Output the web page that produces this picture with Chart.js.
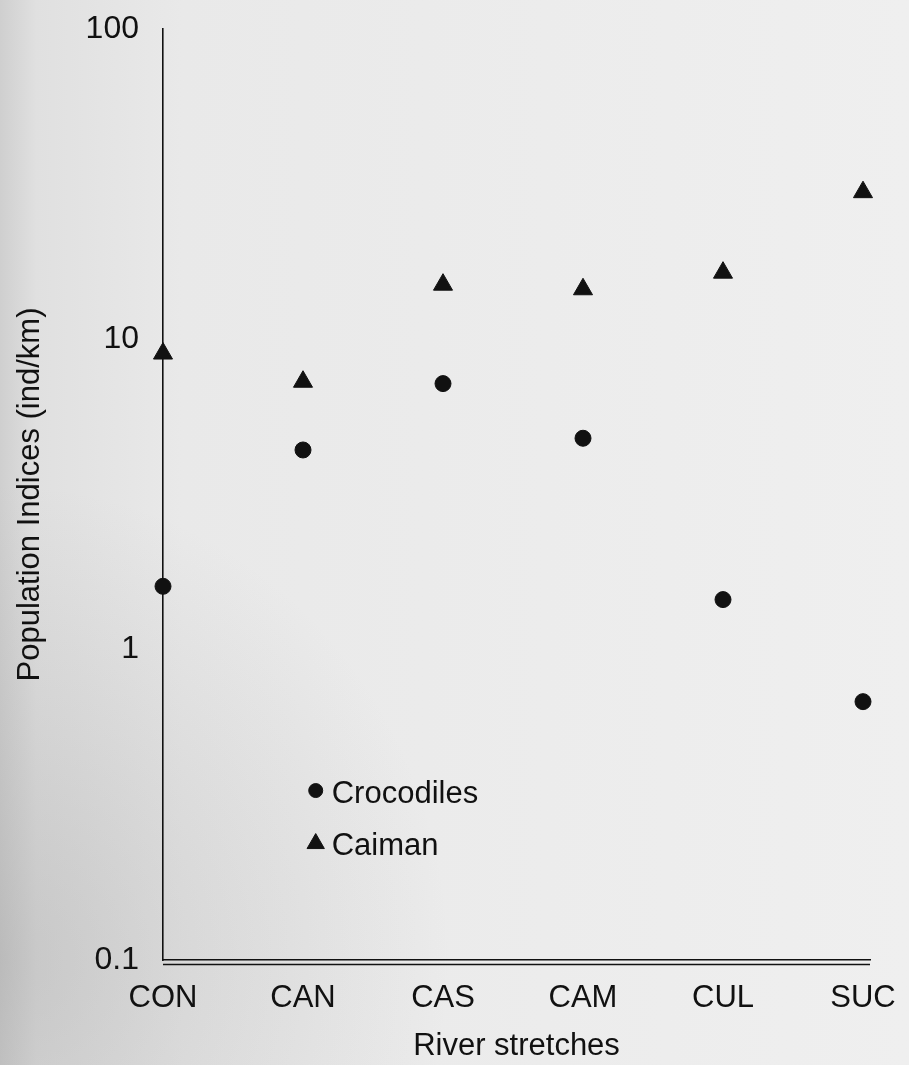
<!DOCTYPE html>
<html>
<head>
<meta charset="utf-8">
<title>Population Indices by river stretch</title>
<script src="https://cdn.jsdelivr.net/npm/chart.js@4/dist/chart.umd.min.js"></script>
<style>
  html, body { margin: 0; padding: 0; }
  body {
    width: 909px; height: 1065px; overflow: hidden;
    background:
      radial-gradient(ellipse at 0% 90%, rgba(140,140,140,0.30) 0%, rgba(140,140,140,0) 35%),
      linear-gradient(to right, #cfcfcf 0%, #e0e0e0 4%, #e9e9e9 20%, #ececec 60%, #efefef 100%);
  }
  #wrap { position: relative; width: 909px; height: 1065px; }
</style>
</head>
<body>
<div id="wrap"><canvas id="chart"></canvas></div>
<script>
// River stretches surveyed
const categories = ['CON', 'CAN', 'CAS', 'CAM', 'CUL', 'SUC'];
// Population indices, individuals per km
const crocodiles = [1.6, 4.4, 7.2, 4.8, 1.45, 0.68];
const caiman = [9.0, 7.3, 15.0, 14.5, 16.4, 29.8];
// Logarithmic axis ticks
const yTicks = [0.1, 1, 10, 100];
const yTickLabels = ['0.1', '1', '10', '100'];

const ink = '#111111';
const font = "'Liberation Sans', Arial, Helvetica, sans-serif";

const toPoints = vals => vals.map((v, i) => ({ x: i, y: v }));

// Doubled x baseline
const doubleBaseline = {
  id: 'doubleBaseline',
  afterDraw(chart) {
    const { ctx, chartArea } = chart;
    ctx.save();
    ctx.strokeStyle = ink;
    ctx.lineWidth = 1.6;
    ctx.beginPath();
    ctx.moveTo(chartArea.left, chartArea.bottom + 4.5);
    ctx.lineTo(chartArea.right, chartArea.bottom + 4.5);
    ctx.stroke();
    ctx.restore();
  }
};

// Key drawn inside the plotting area, lower left
const insetKey = {
  id: 'insetKey',
  afterDraw(chart, args, opts) {
    const { ctx, chartArea } = chart;
    const x0 = chartArea.left + opts.x * (chartArea.right - chartArea.left);
    let y = chartArea.top + opts.y * (chartArea.bottom - chartArea.top);
    ctx.save();
    ctx.font = opts.size + 'px ' + font;
    ctx.textBaseline = 'middle';
    ctx.textAlign = 'left';
    chart.data.datasets.forEach(ds => {
      ctx.fillStyle = ink;
      ctx.strokeStyle = ink;
      ctx.lineWidth = 1;
      Chart.helpers.drawPoint(ctx, {
        pointStyle: ds.pointStyle,
        radius: ds.keyRadius,
        rotation: 0,
        borderWidth: 1
      }, x0, y + ds.keyShift);
      ctx.fillStyle = ink;
      ctx.fillText(ds.label, x0 + 16, y + 4);
      y += opts.rowGap;
    });
    ctx.restore();
  }
};

new Chart(document.getElementById('chart'), {
  type: 'scatter',
  data: {
    datasets: [
      {
        label: 'Crocodiles',
        data: toPoints(crocodiles),
        clip: false,
        pointStyle: 'circle',
        pointRadius: 8,
        pointHoverRadius: 8,
        backgroundColor: ink,
        borderColor: ink,
        borderWidth: 1,
        keyRadius: 7,
        keyShift: 0
      },
      {
        label: 'Caiman',
        data: toPoints(caiman),
        clip: false,
        pointStyle: 'triangle',
        pointRadius: 11,
        pointHoverRadius: 11,
        backgroundColor: ink,
        borderColor: ink,
        borderWidth: 1,
        keyRadius: 10,
        keyShift: 1
      }
    ]
  },
  options: {
    responsive: true,
    maintainAspectRatio: false,
    animation: false,
    events: [],
    layout: { padding: { top: 29, right: 39, bottom: 0, left: 12 } },
    plugins: {
      legend: { display: false },
      tooltip: { enabled: false },
      insetKey: { x: 0.216, y: 0.818, rowGap: 52, size: 31 }
    },
    scales: {
      x: {
        type: 'linear',
        min: 0,
        max: 5.05,
        grid: { display: false },
        border: { display: true, color: ink, width: 1.6 },
        ticks: {
          stepSize: 1,
          includeBounds: false,
          color: ink,
          padding: 12,
          maxRotation: 0,
          font: { family: font, size: 31 },
          callback: v => categories[v]
        },
        title: {
          display: true,
          text: 'River stretches',
          color: ink,
          padding: { top: 0, bottom: 0 },
          font: { family: font, size: 31 }
        },
        afterFit(scale) { scale.height = 1065 - 960; }
      },
      y: {
        type: 'logarithmic',
        min: 0.1,
        max: 100,
        grid: { display: false },
        border: { display: true, color: ink, width: 1.6 },
        afterBuildTicks(scale) { scale.ticks = yTicks.map(v => ({ value: v })); },
        ticks: {
          color: ink,
          padding: 16,
          font: { family: font, size: 32 },
          callback: v => yTickLabels[yTicks.indexOf(v)]
        },
        title: {
          display: true,
          text: 'Population Indices (ind/km)',
          color: ink,
          padding: { top: 0, bottom: 0 },
          font: { family: font, size: 31 }
        },
        afterFit(scale) {
          scale.width = 163 - 12;
          scale.paddingTop = 0;
          scale.paddingBottom = 0;
        }
      }
    }
  },
  plugins: [doubleBaseline, insetKey]
});
</script>
</body>
</html>
